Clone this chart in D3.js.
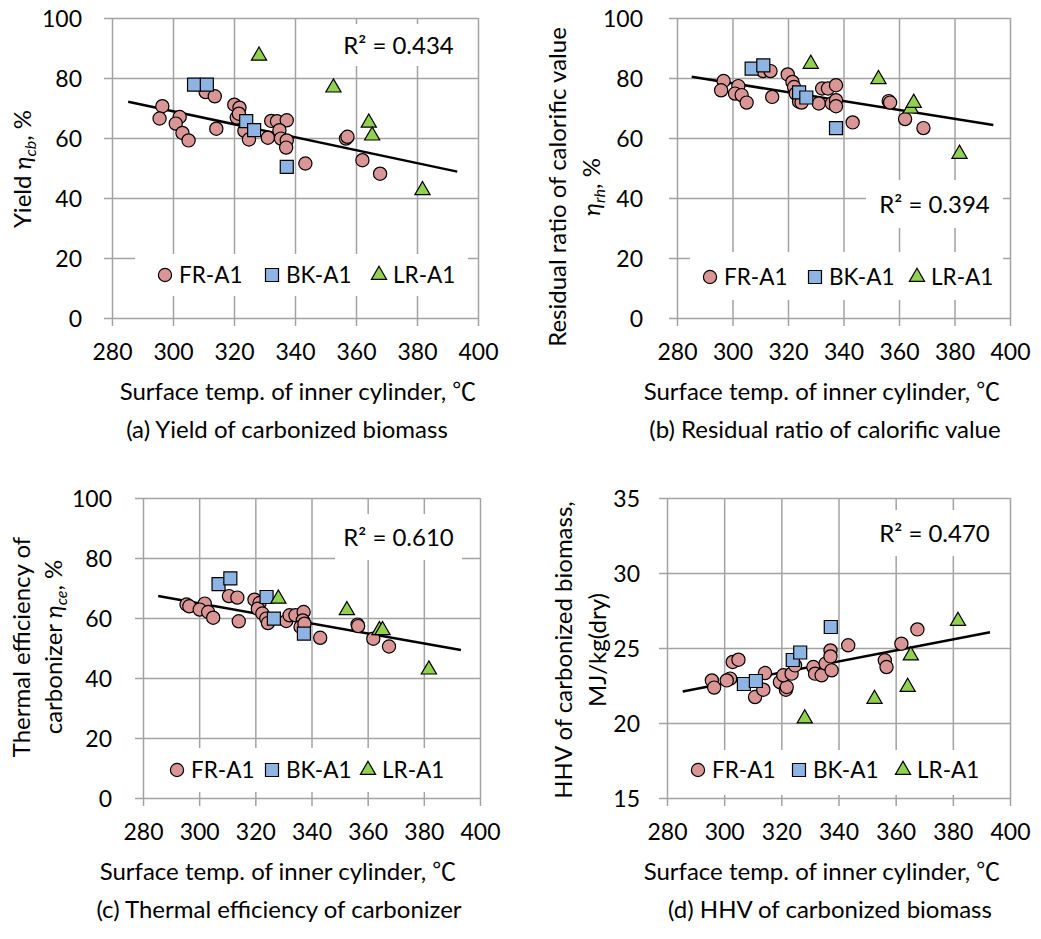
<!DOCTYPE html>
<html>
<head>
<meta charset="utf-8">
<script src="https://cdnjs.cloudflare.com/ajax/libs/d3/7.8.5/d3.min.js"></script>
<style>
  body { margin: 0; background: #fff; }
  text { font-family: Lato, "Noto Sans CJK JP", sans-serif; fill: #000; }
</style>
</head>
<body>
<svg id="chart" width="1041" height="939"></svg>
<script>
var xTicks = [280, 300, 320, 340, 360, 380, 400];
var pctTicks = [0, 20, 40, 60, 80, 100];
var hhvTicks = [15, 20, 25, 30, 35];
var seriesNames = ['FR-A1', 'BK-A1', 'LR-A1'];

// surface temperature of BK-A1 and LR-A1 runs
var tempBK = [306.9, 311.1, 324.0, 326.6, 337.3];
var tempLR = [328.2, 352.6, 364.2, 365.3, 381.8];

// (a) yield
var frTempA = [296.5, 295.6, 302.2, 300.9, 303.1, 305.1, 310.7, 313.7, 314.2, 320.1, 321.8, 320.9, 321.6, 323.4,
  324.9, 331.1, 332.2, 334.1, 337.3, 334.9, 335.4, 337.3, 337.1, 343.4, 356.7, 357.2, 362.1, 367.9];
var frYield = [70.6, 66.5, 67.0, 64.8, 61.7, 59.2, 75.3, 73.9, 63.1, 71.1, 70.1, 66.8, 68.1, 62.4,
  59.5, 60.1, 65.7, 65.6, 65.9, 62.6, 59.8, 59.2, 56.8, 51.5, 59.8, 60.4, 52.6, 48.1];
var bkYield = [77.8, 77.8, 65.6, 62.6, 50.4];
var lrYield = [87.4, 76.8, 65.1, 60.8, 42.6];
var trendYield = [[285.3, 72.1], [393.2, 48.8]];

// (b) residual ratio of calorific value
var frTempB = [296.8, 295.9, 302.1, 300.9, 303.3, 305.1, 311.0, 313.7, 314.3, 319.9, 321.6, 322.2, 322.8, 324.0,
  324.9, 331.1, 332.3, 334.4, 337.3, 335.8, 337.3, 337.3, 343.3, 356.3, 356.8, 362.2, 368.8];
var frResid = [79.0, 75.9, 77.3, 74.8, 74.3, 71.8, 82.3, 82.3, 73.7, 81.2, 78.7, 77.0, 74.8, 72.1,
  71.8, 71.5, 76.5, 76.5, 77.6, 71.5, 72.6, 70.6, 65.2, 72.3, 71.8, 66.3, 63.3];
var bkResid = [83.1, 84.2, 75.2, 73.5, 63.3];
var lrResid = [84.7, 79.6, 69.8, 71.7, 54.7];
var trendResid = [[285.3, 80.4], [394.0, 64.3]];

// (c) thermal efficiency
var frTempC = [295.5, 296.5, 302.0, 300.2, 303.2, 305.0, 310.6, 313.6, 314.1, 319.7, 321.5, 320.9, 322.5, 323.9,
  324.5, 331.0, 332.2, 334.3, 337.2, 336.9, 336.1, 337.5, 343.1, 356.4, 356.6, 362.0, 367.6];
var frEff = [64.5, 63.9, 64.8, 62.8, 62.0, 60.1, 67.3, 66.8, 58.9, 66.1, 65.0, 63.1, 61.5, 59.8,
  58.3, 59.0, 60.9, 60.9, 62.0, 59.2, 57.0, 58.1, 53.4, 57.8, 57.3, 53.1, 50.5];
var bkEff = [71.3, 73.2, 67.0, 59.8, 54.8];
var lrEff = [66.4, 62.6, 55.9, 55.9, 42.8];
var trendEff = [[285.4, 67.3], [393.2, 49.3]];

// (d) HHV, MJ/kg(dry)
var frTempD = [295.7, 296.5, 302.1, 300.9, 303.0, 305.0, 310.8, 313.7, 314.3, 319.5, 321.6, 321.9, 320.7, 323.6,
  324.8, 331.2, 331.8, 334.1, 335.5, 337.2, 337.2, 337.6, 343.4, 356.2, 356.8, 362.0, 367.6];
var frHHV = [22.84, 22.36, 22.96, 22.84, 24.07, 24.22, 21.73, 22.22, 23.33, 22.73, 22.22, 22.4, 23.18, 23.29,
  23.84, 23.73, 23.29, 23.18, 23.96, 24.84, 24.44, 23.51, 25.18, 24.18, 23.73, 25.29, 26.24];
var bkHHV = [22.6, 22.8, 24.2, 24.7, 26.4];
var lrHHV = [20.3, 21.6, 22.4, 24.5, 26.8];
var trendHHV = [[285.5, 22.1], [393.0, 26.05]];

var fills = ['#DA9694', '#8DB4E2', '#92D050'];
var gridColor = '#A3A3A3';
var fs = 24;      // titles, captions, R²
var tickFs = 23;  // tick labels
var legFs = 22.5; // legend

var svg = d3.select('#chart');

var panels = [
  { left: 112, right: 478, top: 18, bottom: 318, yDomain: [0, 100], yTicks: pctTicks, yLabelX: 82,
    fr: [frTempA, frYield], bk: bkYield, lr: lrYield, trend: trendYield, r2: 'R² = 0.434',
    r2Box: [335, 24, 127, 42], legBox: [135, 254, 333, 42], legY: 275, legX: [165, 272, 379],
    yTitle: [{ x: 22, parts: [['Yield '], ['η', 'i'], ['cb', 'is'], [', %']] }], yTitleY: 169,
    xTitleX: 298, xTitleY: 400, caption: '(a) Yield of carbonized biomass', capX: 287, capY: 438 },
  { left: 677, right: 1010, top: 18, bottom: 318, yDomain: [0, 100], yTicks: pctTicks, yLabelX: 643,
    fr: [frTempB, frResid], bk: bkResid, lr: lrResid, trend: trendResid, r2: 'R² = 0.394',
    r2Box: [866, 180, 137, 48], legBox: [690, 252, 313, 48], legY: 277, legX: [710, 815, 917],
    yTitle: [{ x: 557, parts: [['Residual ratio of calorific value']] },
             { x: 591, parts: [['η', 'i'], ['rh', 'is'], [', %']] }], yTitleY: 187,
    xTitleX: 822, xTitleY: 400, caption: '(b) Residual ratio of calorific value', capX: 825, capY: 438 },
  { left: 143, right: 480, top: 498, bottom: 798, yDomain: [0, 100], yTicks: pctTicks, yLabelX: 112,
    fr: [frTempC, frEff], bk: bkEff, lr: lrEff, trend: trendEff, r2: 'R² = 0.610',
    r2Box: [335, 514, 127, 46], legBox: [160, 748, 300, 44], legY: 770, legX: [177, 272, 368],
    yTitle: [{ x: 21, parts: [['Thermal efficiency of']] },
             { x: 53, parts: [['carbonizer '], ['η', 'i'], ['ce', 'is'], [', %']] }], yTitleY: 647,
    xTitleX: 278, xTitleY: 880, caption: '(c) Thermal efficiency of carbonizer', capX: 279, capY: 918 },
  { left: 667, right: 1010, top: 498, bottom: 798, yDomain: [15, 35], yTicks: hhvTicks, yLabelX: 640,
    fr: [frTempD, frHHV], bk: bkHHV, lr: lrHHV, trend: trendHHV, r2: 'R² = 0.470',
    r2Box: [866, 510, 137, 46], legBox: [680, 750, 320, 45], legY: 770, legX: [698, 799, 903],
    yTitle: [{ x: 563, parts: [['HHV of carbonized biomass,']] },
             { x: 597, parts: [['MJ/kg(dry)']] }], yTitleY: 650,
    xTitleX: 822, xTitleY: 880, caption: '(d) HHV of carbonized biomass', capX: 830, capY: 918 }
];

var circle = d3.symbol().type(d3.symbolCircle).size(Math.PI * 6.6 * 6.6);
var square = d3.symbol().type(d3.symbolSquare).size(13 * 13);
var triangle = d3.symbol().type(d3.symbolTriangle).size(100);
var shapes = [circle, square, triangle];

panels.forEach(function(p) {
  var g = svg.append('g');
  var x = d3.scaleLinear().domain([280, 400]).range([p.left, p.right]);
  var y = d3.scaleLinear().domain(p.yDomain).range([p.bottom, p.top]);
  var h = p.bottom - p.top;
  var w = p.right - p.left;

  // vertical gridlines + x tick labels
  var xa = g.append('g').attr('transform', 'translate(0,' + p.bottom + ')')
    .call(d3.axisBottom(x).tickValues(xTicks).tickSizeInner(-h).tickSizeOuter(0).tickPadding(0));
  xa.select('.domain').remove();
  xa.selectAll('line').attr('y1', 8).attr('stroke', gridColor).attr('stroke-width', 1.5);
  xa.selectAll('text').attr('y', 42).attr('dy', null).attr('font-size', tickFs)
    .style('font-family', 'Lato, sans-serif');

  // horizontal gridlines + y tick labels
  var ya = g.append('g').attr('transform', 'translate(' + p.left + ',0)')
    .call(d3.axisLeft(y).tickValues(p.yTicks).tickSizeInner(-w).tickSizeOuter(0).tickPadding(0));
  ya.select('.domain').remove();
  ya.selectAll('line').attr('x1', -8).attr('stroke', gridColor).attr('stroke-width', 1.5);
  ya.selectAll('text').attr('x', p.yLabelX - p.left).attr('dy', '0.36em').attr('font-size', tickFs)
    .style('font-family', 'Lato, sans-serif');

  // white boxes of R² label and legend
  g.append('rect').attr('x', p.r2Box[0]).attr('y', p.r2Box[1])
    .attr('width', p.r2Box[2]).attr('height', p.r2Box[3]).attr('fill', '#fff');
  g.append('rect').attr('x', p.legBox[0]).attr('y', p.legBox[1])
    .attr('width', p.legBox[2]).attr('height', p.legBox[3]).attr('fill', '#fff');

  // trendline
  g.append('path').datum(p.trend)
    .attr('d', d3.line().x(function(d) { return x(d[0]); }).y(function(d) { return y(d[1]); }))
    .attr('stroke', '#000').attr('stroke-width', 2.5).attr('fill', 'none');

  // points
  var sets = [
    p.fr[0].map(function(t, i) { return [t, p.fr[1][i]]; }),
    tempBK.map(function(t, i) { return [t, p.bk[i]]; }),
    tempLR.map(function(t, i) { return [t, p.lr[i]]; })
  ];
  sets.forEach(function(pts, k) {
    g.selectAll('.s' + k).data(pts).enter().append('path')
      .attr('class', 's' + k)
      .attr('d', shapes[k])
      .attr('transform', function(d) { return 'translate(' + x(d[0]) + ',' + y(d[1]) + ')'; })
      .attr('fill', fills[k]).attr('stroke', '#000').attr('stroke-width', 1.2);
  });

  // legend
  seriesNames.forEach(function(name, k) {
    g.append('path').attr('d', shapes[k])
      .attr('transform', 'translate(' + p.legX[k] + ',' + p.legY + ')')
      .attr('fill', fills[k]).attr('stroke', '#000').attr('stroke-width', 1.2);
    g.append('text').attr('x', p.legX[k] + 14).attr('y', p.legY).attr('dy', '0.36em')
      .attr('font-size', legFs).text(name);
  });

  // R²
  g.append('text').attr('x', p.r2Box[0] + p.r2Box[2] / 2).attr('y', p.r2Box[1] + p.r2Box[3] / 2)
    .attr('dy', '0.36em').attr('text-anchor', 'middle').attr('font-size', fs).text(p.r2);

  // y title (rotated, may have two lines)
  p.yTitle.forEach(function(line) {
    var t = g.append('text')
      .attr('transform', 'translate(' + line.x + ',' + p.yTitleY + ') rotate(-90)')
      .attr('text-anchor', 'middle').attr('dy', '0.36em').attr('font-size', fs);
    line.parts.forEach(function(part) {
      var s = t.append('tspan').text(part[0]);
      if (part[1] === 'i') s.attr('font-style', 'italic');
      if (part[1] === 'is') s.attr('font-style', 'italic').attr('font-size', 16).attr('dy', 5);
      if (part[1] === undefined && part[0].charAt(0) === ',') s.attr('dy', -5);
    });
  });

  // x title and caption
  g.append('text').attr('x', p.xTitleX).attr('y', p.xTitleY).attr('text-anchor', 'middle')
    .attr('font-size', fs).text('Surface temp. of inner cylinder, ℃');
  g.append('text').attr('x', p.capX).attr('y', p.capY).attr('text-anchor', 'middle')
    .attr('font-size', fs).text(p.caption);
});
</script>
</body>
</html>
